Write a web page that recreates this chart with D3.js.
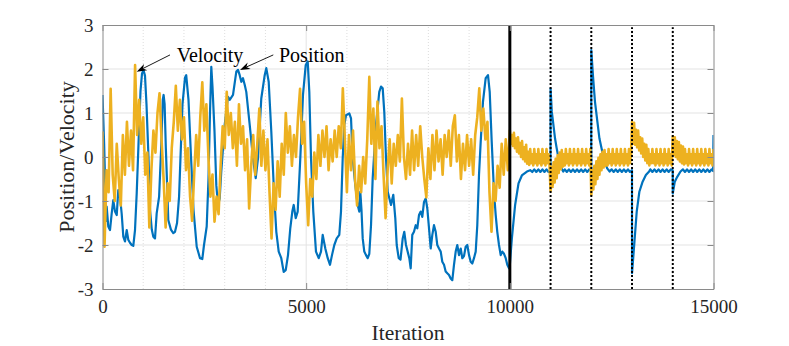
<!DOCTYPE html>
<html>
<head>
<meta charset="utf-8">
<script src="https://cdn.jsdelivr.net/npm/d3@7"></script>
<style>
  body { margin: 0; background: #fff; }
  svg { display: block; }
  text { font-family: "Liberation Serif", "DejaVu Serif", "Noto Serif", "Times New Roman", Times, serif; fill: #262626; }
</style>
</head>
<body>
<svg id="chart" width="789" height="346"></svg>
<script>
'use strict';

// ---- data ----
const xTicks = [0, 5000, 10000, 15000];
const xMinor = [1000, 2000, 3000, 4000, 6000, 7000, 8000, 9000, 11000, 12000, 13000, 14000];
const yTicks = [-3, -2, -1, 0, 1, 2, 3];
const resetSolid = [10000];
const resetDotted = [11000, 12000, 13000, 14000];

// position (blue), sampled at the visible turning points
const posIter = [
  0, 40, 90, 103, 142, 184, 226, 265, 307, 349, 388, 430, 471, 511, 552, 594, 633, 675, 717, 756, 798, 840,
  884, 933, 970, 1007, 1043, 1080, 1129, 1166, 1210, 1247, 1289, 1330, 1390, 1440, 1480, 1500, 1525, 1555,
  1585, 1615, 1680, 1738, 1780, 1830, 1880, 1915, 1964, 2025, 2055, 2111, 2173, 2234, 2313, 2394, 2450,
  2492, 2558, 2602, 2639, 2671, 2700, 2749, 2794, 2835, 2877, 2916, 3000, 3081, 3123, 3204, 3285, 3327,
  3368, 3408, 3449, 3491, 3530, 3614, 3695, 3761, 3817, 3898, 3982, 4021, 4080, 4144, 4210, 4267, 4326,
  4389, 4448, 4498, 4554, 4610, 4660, 4694, 4743, 4792, 4856, 4922, 4989, 5038, 5077, 5119, 5175, 5241,
  5308, 5364, 5406, 5470, 5529, 5585, 5634, 5691, 5750, 5813, 5855, 5897, 5936, 5978, 6059, 6101, 6142,
  6206, 6265, 6304, 6329, 6358, 6388, 6427, 6469, 6511, 6550, 6592, 6633, 6714, 6795, 6837, 6879, 6918,
  6960, 7002, 7083, 7139, 7188, 7223, 7272, 7316, 7370, 7409, 7451, 7532, 7566, 7605, 7647, 7689, 7728,
  7770, 7812, 7851, 7893, 7935, 7974, 8016, 8057, 8097, 8138, 8180, 8219, 8261, 8303, 8342, 8384, 8425,
  8465, 8507, 8548, 8588, 8629, 8671, 8710, 8752, 8794, 8833, 8875, 8916, 8956, 8998, 9039, 9079, 9120,
  9162, 9201, 9243, 9285, 9341, 9407, 9464, 9506, 9555, 9611, 9653, 9692, 9734, 9776, 9815, 9857, 9899,
  9938, 9980, 10000, 10050, 10130, 10213, 10295, 10420, 10500, 10550, 10600, 10650, 10700, 10750, 10800,
  10850, 10900, 10950, 10999, 11000, 11030, 11070, 11110, 11150, 11190, 11230, 11270, 11310, 11350, 11400,
  11450, 11500, 11550, 11600, 11650, 11700, 11750, 11800, 11850, 11900, 11950, 11999, 12000, 12040, 12090,
  12150, 12200, 12270, 12330, 12390, 12450, 12500, 12550, 12600, 12650, 12700, 12750, 12800, 12850, 12900,
  12950, 12999, 13000, 13060, 13115, 13180, 13260, 13340, 13420, 13450, 13500, 13550, 13600, 13650, 13700,
  13750, 13800, 13850, 13900, 13950, 13999, 14000, 14050, 14110, 14190, 14250, 14300, 14350, 14400, 14450,
  14500, 14550, 14600, 14650, 14700, 14750, 14800, 14850, 14900, 14950, 14990, 15000
];
const posVal = [
  1.41, 0.3, -1.45, -1.13, -1.58, -1.66, -1.28, -0.98, -1.24, -1.32, -0.75, -0.9, -1.29, -1.81, -1.92, -1.66, -1.88, -1.95, -2.0, -2.02, -1.66, -0.82,
  0.3, 1.5, 1.9, 1.97, 1.85, 1.2, 0.0, -1.2, -1.65, -1.81, -1.85, -1.28, -0.9, 0.2, 1.3, 1.41, 1.2, 0.2,
  -0.6, -1.43, -1.65, -1.73, -1.7, -1.5, -0.9, 0.0, 1.2, 1.8, 1.86, 1.3, 0.0, -1.2, -2.04, -2.3, -2.32,
  -2.0, -1.58, -0.5, 1.0, 2.05, 1.6, 0.6, -0.64, -1.09, -0.94, -0.33, 0.73, 1.37, 1.3, 1.41, 1.94, 1.98,
  1.86, 1.71, 1.79, 1.64, 1.48, 0.73, -0.03, -0.48, -0.03, 1.33, 1.86, 2.02, 1.71, 0.58, -0.79, -1.7, -2.15,
  -2.3, -2.61, -2.57, -2.23, -1.62, -1.24, -1.09, -1.39, -1.24, -0.03, 1.41, 2.09, 2.17, 1.48, -0.03, -1.24, -2.15,
  -2.3, -2.15, -1.77, -2.08, -2.3, -2.45, -2.23, -2.0, -1.85, -1.77, -1.24, -0.03, 0.73, 0.95, 0.99, 0.88, -0.03,
  -0.64, -1.09, -1.24, -0.79, -1.2, -1.85, -2.15, -2.23, -2.3, -2.2, -1.55, -0.48, 0.73, 1.48, 1.6, 1.56, 1.02,
  -0.03, -0.79, -1.09, -0.86, -1.39, -2.0, -2.3, -2.33, -1.85, -1.7, -2.0, -2.3, -2.53, -1.77, -1.7, -1.55, -1.62,
  -1.32, -1.24, -1.36, -1.02, -0.94, -1.17, -1.62, -2.08, -1.77, -1.55, -1.7, -2.0, -2.08, -2.15, -2.38, -2.45, -2.6,
  -2.64, -2.68, -2.76, -2.8, -2.45, -2.15, -2.0, -2.23, -2.08, -2.3, -2.25, -2.04, -2.0, -2.23, -2.38, -2.42, -2.3,
  -2.15, -1.55, -0.41, 0.35, 1.26, 1.79, 1.86, 1.48, 0.35, -0.79, -1.32, -1.7, -2.0, -2.23, -2.15, -2.2, -2.3,
  -2.45, -2.53, -2.45, -1.85, -1.09, -0.6, -0.42, -0.33, -0.3, -0.34, -0.28, -0.34, -0.28, -0.34, -0.28,
  -0.34, -0.28, -0.34, -0.3, 1.56, 1.03, 0.73, 0.42, 0.2, 0.0, -0.18, -0.26, -0.33, -0.28, -0.34,
  -0.28, -0.34, -0.28, -0.34, -0.28, -0.34, -0.28, -0.34, -0.28, -0.34, -0.28, -0.32, 2.43, 1.86, 1.26,
  0.8, 0.42, 0.12, -0.11, -0.26, -0.33, -0.28, -0.34, -0.28, -0.34, -0.28, -0.34, -0.28, -0.34, -0.28,
  -0.34, -0.3, -2.64, -1.92, -1.24, -0.79, -0.56, -0.41, -0.33, -0.28, -0.34, -0.28, -0.34, -0.28, -0.34,
  -0.28, -0.34, -0.28, -0.34, -0.28, -0.3, -0.83, -0.56, -0.45, -0.33, -0.28, -0.34, -0.28, -0.34, -0.28,
  -0.34, -0.28, -0.34, -0.28, -0.34, -0.28, -0.34, -0.28, -0.34, -0.28, -0.32, 0.5
];

// velocity (yellow): every 50 iterations up to 9950, then every 25 to 15000
const velStepA = 50;
const velA = [
  0.58, -2.04, -0.3, -0.8, 1.55, -0.4, -1.0, 0.3, -0.5, -1.1,
  0.5, -0.4, 0.8, -0.2, 0.6, -0.3, 2.09, 0.5, 1.3, 0.3,
  0.9, -0.4, 0.1, -1.6, -0.3, 0.6, 0.1, 1.0, 1.45, 0.4,
  -0.5, -1.6, -0.6, -1.0, 0.2, 0.8, 1.62, 0.6, 1.3, 0.4,
  0.9, -0.3, 0.2, -0.9, -1.45, -0.4, 0.5, -0.2, 0.9, 1.7,
  0.6, 1.2, 0.0, -0.9, -0.4, -1.47, -0.9, -1.3, -0.2, 0.7,
  0.2, 1.48, 0.5, 1.0, 0.2, 0.8, -0.2, 1.2, 0.3, 0.7,
  -0.3, 0.4, -1.17, -0.2, 0.5, -0.4, 0.3, 1.1, -0.2, 0.6,
  -0.3, 0.4, -0.8, -1.85, -0.6, -1.2, -0.1, -0.9, 0.3, -0.4,
  1.0, 0.1, 0.7, -0.2, 0.5, 0.0, 0.9, 1.55, 0.3, 0.8,
  -0.6, -1.55, -0.5, -0.9, 0.1, -0.5, 0.5, -0.2, 0.6, 0.0,
  0.7, -0.3, 0.4, -0.1, 0.6, 0.0, 0.7, 0.2, 1.56, 0.4,
  -0.8, 0.5, -0.3, 0.6, -0.5, -1.1, -0.2, -0.8, 0.0, -0.6,
  0.4, 1.82, 0.3, 1.1, -0.5, 1.26, 0.2, 0.7, -0.4, -1.39,
  -0.3, 0.4, -0.6, 0.3, -0.2, 0.5, -0.1, 1.33, 0.0, -0.5,
  0.3, -0.4, 0.6, -0.3, 0.5, -0.2, 0.7, 0.0, -0.5, -0.92,
  0.2, -0.5, 0.5, -0.3, 0.6, -0.1, 0.4, -0.4, 0.5, 0.0,
  0.6, -0.2, 0.7, 0.95, -0.1, 0.5, -0.5, 0.3, -0.3, 0.5,
  -0.2, 0.4, -0.4, 0.5, 0.9, 1.56, 0.6, 1.1, 0.4, 0.8,
  -0.8, -1.7, -0.6, -1.0, -0.2, -0.7, 0.3, -0.4, 0.4, -0.3
];
const velStartB = 10000;
const velStepB = 25;
const velB = [
  0.6, 0.3, 0.5, 0.25, 0.55, 0.2, 0.42, 0.12, 0.45, 0.08, 0.32, 0.0, 0.36, -0.05, 0.22, -0.1, 0.28, -0.15, 0.12, -0.18,
  0.18, -0.14, 0.06, -0.19, 0.18, -0.14, 0.06, -0.19, 0.18, -0.14, 0.06, -0.19, 0.18, -0.14, 0.06, -0.19, 0.18, -0.14, 0.06, -0.19,
  -0.78, -0.22, -0.68, -0.12, -0.58, -0.04, -0.48, 0.04, -0.36, 0.1, -0.28, 0.16, -0.22, 0.06, -0.19, 0.18, -0.14, 0.06, -0.19, 0.18,
  -0.14, 0.06, -0.19, 0.18, -0.14, 0.06, -0.19, 0.18, -0.14, 0.06, -0.19, 0.18, -0.14, 0.06, -0.19, 0.18, -0.14, 0.06, -0.19, 0.18,
  -0.86, -0.3, -0.74, -0.2, -0.62, -0.1, -0.5, -0.02, -0.4, 0.06, -0.3, 0.12, -0.24, 0.16, -0.2, 0.06, -0.19, 0.18, -0.14, 0.06,
  -0.19, 0.18, -0.14, 0.06, -0.19, 0.18, -0.14, 0.06, -0.19, 0.18, -0.14, 0.06, -0.19, 0.18, -0.14, 0.06, -0.19, 0.18, -0.14, 0.06,
  0.8, 0.3, 0.78, 0.28, 0.62, 0.22, 0.6, 0.15, 0.45, 0.08, 0.42, 0.0, 0.3, -0.08, 0.28, -0.14, 0.18, -0.19, 0.06, -0.14,
  0.18, -0.14, 0.06, -0.19, 0.18, -0.14, 0.06, -0.19, 0.18, -0.14, 0.06, -0.19, 0.18, -0.14, 0.06, -0.19, 0.18, -0.14, 0.06, -0.19,
  0.47, 0.05, 0.45, 0.0, 0.36, -0.05, 0.34, -0.1, 0.26, -0.14, 0.24, -0.17, 0.18, -0.14, 0.06, -0.19, 0.18, -0.14, 0.06, -0.19,
  0.18, -0.14, 0.06, -0.19, 0.18, -0.14, 0.06, -0.19, 0.18, -0.14, 0.06, -0.19, 0.18, -0.14, 0.06, -0.19, 0.18, -0.14, 0.06, -0.19,
  0.18
];

// annotation anchors in data units: arrow tip, arrow tail, text start
const noteLabels = ["Velocity", "Position"];
const noteTips = [[840, 1.94], [3376, 1.98]];
const noteTails = [[1657, 2.32], [4193, 2.32]];
const noteText = [[1822, 2.16], [4333, 2.16]];

// ---- chart ----
const serif = '"Liberation Serif", "DejaVu Serif", "Noto Serif", "Times New Roman", Times, serif';
const svg = d3.select("#chart");
const margin = { left: 102.5, right: 75.5, top: 25, bottom: 57 };
const W = 789, H = 346;
const x = d3.scaleLinear().domain([0, 15000]).range([margin.left, W - margin.right]);
const y = d3.scaleLinear().domain([-3, 3]).range([H - margin.bottom, margin.top]);

svg.append("rect").attr("width", W).attr("height", H).attr("fill", "#fff");

svg.append("defs").append("clipPath").attr("id", "plot-clip")
  .append("rect")
  .attr("x", x(0)).attr("y", y(3))
  .attr("width", x(15000) - x(0)).attr("height", y(-3) - y(3));

// grid
const grid = svg.append("g").attr("class", "grid");
grid.selectAll(".gy").data(yTicks.slice(1, -1)).join("line")
  .attr("x1", x(0)).attr("x2", x(15000))
  .attr("y1", d => y(d)).attr("y2", d => y(d))
  .attr("stroke", "#e3e3e3").attr("stroke-width", 1);
grid.selectAll(".gx").data(xTicks.slice(1, -1)).join("line")
  .attr("x1", d => x(d)).attr("x2", d => x(d))
  .attr("y1", y(-3)).attr("y2", y(3))
  .attr("stroke", "#e3e3e3").attr("stroke-width", 1);
grid.selectAll(".gxm").data(xMinor).join("line")
  .attr("x1", d => x(d)).attr("x2", d => x(d))
  .attr("y1", y(-3)).attr("y2", y(3))
  .attr("stroke", "#d4d4d4").attr("stroke-width", 0.8)
  .attr("stroke-dasharray", "1,2");

// series
const posData = posIter.map((t, i) => [t, posVal[i]]);
const velData = velA.map((v, i) => [i * velStepA, v])
  .concat(velB.map((v, i) => [velStartB + i * velStepB, v]));

const line = d3.line().x(d => x(d[0])).y(d => y(d[1]));
const plot = svg.append("g").attr("clip-path", "url(#plot-clip)");

plot.append("path").datum(posData)
  .attr("d", line)
  .attr("fill", "none").attr("stroke", "#0072BD")
  .attr("stroke-width", 2.2).attr("stroke-linejoin", "round");

plot.append("path").datum(velData)
  .attr("d", line)
  .attr("fill", "none").attr("stroke", "#EDB120")
  .attr("stroke-width", 2.6).attr("stroke-linejoin", "round");

// switching instants
plot.selectAll(".solid").data(resetSolid).join("line")
  .attr("x1", d => x(d)).attr("x2", d => x(d))
  .attr("y1", y(-3)).attr("y2", y(3))
  .attr("stroke", "#000").attr("stroke-width", 3);
plot.selectAll(".dotted").data(resetDotted).join("line")
  .attr("x1", d => x(d)).attr("x2", d => x(d))
  .attr("y1", y(-3)).attr("y2", y(2.95))
  .attr("stroke", "#000").attr("stroke-width", 2)
  .attr("stroke-dasharray", "2,2");

// axes (ticks point inward, box on)
const axisColor = "#8a8a8a";
function styleAxis(g) {
  g.attr("font-family", null);
  g.selectAll(".domain").attr("stroke", axisColor);
  g.selectAll(".tick line").attr("stroke", axisColor);
  g.selectAll(".tick text").attr("fill", "#262626")
    .style("font-family", serif)
    .style("font-size", "19px");
}
const fmt = d => String(d).replace("\u2212", "-");
svg.append("g")
  .attr("transform", `translate(0,${y(-3)})`)
  .call(d3.axisBottom(x).tickValues(xTicks).tickFormat(fmt).tickSizeInner(-6).tickSizeOuter(0).tickPadding(11))
  .call(styleAxis);
svg.append("g")
  .attr("transform", `translate(0,${y(3)})`)
  .call(d3.axisTop(x).tickValues(xTicks).tickSizeInner(-6).tickSizeOuter(0).tickFormat(""))
  .call(styleAxis);
svg.append("g")
  .attr("transform", `translate(${x(0)},0)`)
  .call(d3.axisLeft(y).tickValues(yTicks).tickFormat(fmt).tickSizeInner(-6).tickSizeOuter(0).tickPadding(9))
  .call(styleAxis);
svg.append("g")
  .attr("transform", `translate(${x(15000)},0)`)
  .call(d3.axisRight(y).tickValues(yTicks).tickSizeInner(-6).tickSizeOuter(0).tickFormat(""))
  .call(styleAxis);

// labels
svg.append("text")
  .attr("x", (x(0) + x(15000)) / 2).attr("y", 340)
  .attr("text-anchor", "middle")
  .style("font-family", serif)
  .style("font-size", "21.5px")
  .text("Iteration");
svg.append("text")
  .attr("transform", `translate(74,${(y(-3) + y(3)) / 2}) rotate(-90)`)
  .attr("text-anchor", "middle")
  .style("font-family", serif)
  .style("font-size", "22px")
  .text("Position/Velocity");

// annotations
const notes = svg.append("g");
noteLabels.forEach((label, i) => {
  const [tx, ty] = [x(noteTips[i][0]), y(noteTips[i][1])];
  const [sx, sy] = [x(noteTails[i][0]), y(noteTails[i][1])];
  const ang = Math.atan2(ty - sy, tx - sx);
  const len = 10, half = 3.6, notch = 7;
  const ux = Math.cos(ang), uy = Math.sin(ang);
  const px = -uy, py = ux;
  notes.append("line")
    .attr("x1", sx).attr("y1", sy)
    .attr("x2", tx - ux * notch).attr("y2", ty - uy * notch)
    .attr("stroke", "#000").attr("stroke-width", 0.9);
  const pts = [
    [tx, ty],
    [tx - ux * len + px * half, ty - uy * len + py * half],
    [tx - ux * notch, ty - uy * notch],
    [tx - ux * len - px * half, ty - uy * len - py * half]
  ];
  notes.append("path")
    .attr("d", "M" + pts.map(p => p.join(",")).join("L") + "Z")
    .attr("fill", "#000");
  notes.append("text")
    .attr("x", x(noteText[i][0])).attr("y", y(noteText[i][1]))
    .style("font-family", serif)
    .style("font-size", "20px")
    .style("fill", "#000")
    .text(label);
});
</script>
</body>
</html>
